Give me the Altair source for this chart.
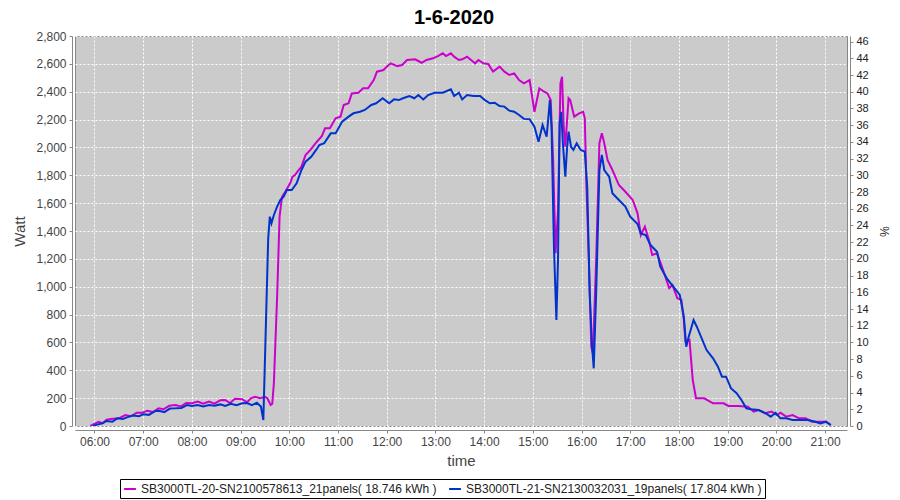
import altair as alt
import pandas as pd

# ---- data ----
m_time = ["05:55","06:00","06:05","06:10","06:15","06:20","06:30","06:38","06:45","06:52","06:59","07:05","07:12","07:19","07:25","07:32","07:40","07:46","07:53","08:00","08:07","08:14","08:21","08:28","08:35","08:41","08:47","08:53","09:02","09:08","09:13","09:18","09:24","09:30","09:33","09:37","09:39","09:41","09:45","09:48","09:51","09:55","10:01","10:04","10:07","10:10","10:15","10:20","10:26","10:34","10:40","10:44","10:50","10:57","11:03","11:07","11:13","11:17","11:25","11:31","11:37","11:44","11:48","11:56","12:00","12:05","12:13","12:19","12:25","12:35","12:43","12:49","12:57","13:03","13:09","13:13","13:19","13:23","13:29","13:33","13:39","13:45","13:49","13:53","13:59","14:05","14:11","14:19","14:25","14:31","14:37","14:43","14:49","14:56","15:02","15:08","15:14","15:18","15:22","15:25","15:28","15:31","15:34","15:36","15:38","15:40","15:44","15:46","15:51","15:57","16:02","16:04","16:06","16:09","16:12","16:14","16:18","16:22","16:25","16:28","16:32","16:38","16:46","16:54","17:03","17:09","17:13","17:18","17:23","17:27","17:33","17:39","17:48","17:52","17:58","18:03","18:06","18:08","18:13","18:17","18:21","18:31","18:42","18:55","19:01","19:13","19:25","19:32","19:38","19:46","19:54","20:01","20:05","20:12","20:20","20:28","20:36","20:44","21:01","21:07"]
m_watt = [0,15,30,20,45,50,55,79,70,95,95,110,100,127,120,145,151,140,165,163,175,160,175,160,185,187,165,195,192,170,200,210,200,210,199,151,160,309,928,1503,1646,1682,1742,1790,1802,1826,1862,1946,1982,2041,2080,2137,2137,2209,2221,2305,2317,2388,2393,2424,2424,2484,2544,2556,2580,2604,2584,2592,2628,2633,2608,2628,2640,2656,2676,2656,2676,2652,2628,2633,2652,2623,2604,2628,2604,2599,2544,2580,2544,2520,2532,2484,2460,2484,2256,2424,2400,2388,2340,1910,1240,1551,2460,2508,2149,2005,2353,2340,2221,2245,2256,2209,1718,1192,569,522,1192,2030,2101,2030,1910,1838,1730,1682,1623,1527,1371,1431,1335,1228,1240,1144,989,1012,917,905,761,605,617,330,199,199,163,163,144,144,139,103,115,91,103,79,95,67,79,55,55,31,31,7]

b_time = ["05:58","06:03","06:10","06:15","06:22","06:28","06:35","06:40","06:47","06:55","07:00","07:07","07:14","07:19","07:26","07:33","07:40","07:47","07:54","08:00","08:07","08:14","08:21","08:28","08:35","08:41","08:48","08:55","09:02","09:08","09:14","09:20","09:25","09:28","09:34","09:36","09:38","09:41","09:45","09:49","09:53","09:57","10:03","10:09","10:15","10:20","10:27","10:33","10:37","10:43","10:51","10:57","11:05","11:13","11:19","11:27","11:33","11:41","11:47","11:55","12:03","12:09","12:15","12:20","12:28","12:34","12:39","12:45","12:51","12:59","13:09","13:19","13:23","13:29","13:33","13:39","13:47","13:55","14:01","14:07","14:13","14:19","14:25","14:31","14:37","14:43","14:49","14:56","15:02","15:07","15:12","15:17","15:21","15:23","15:26","15:29","15:31","15:33","15:35","15:37","15:40","15:42","15:44","15:47","15:50","15:54","15:59","16:04","16:07","16:10","16:13","16:15","16:18","16:22","16:25","16:28","16:34","16:38","16:46","16:54","17:00","17:09","17:13","17:19","17:25","17:33","17:37","17:45","17:53","18:01","18:06","18:09","18:12","18:18","18:22","18:28","18:34","18:42","18:48","18:53","18:58","19:04","19:11","19:17","19:23","19:29","19:38","19:46","19:53","19:59","20:05","20:12","20:20","20:31","20:39","20:48","20:54","21:01","21:07"]
b_watt = [0,10,20,36,30,55,50,62,75,70,85,80,105,110,100,125,127,130,150,144,150,140,151,145,155,144,160,150,163,165,150,167,140,43,1347,1503,1455,1515,1575,1623,1646,1694,1694,1742,1838,1898,1933,1982,2017,2030,2101,2101,2185,2221,2245,2256,2269,2305,2317,2353,2317,2345,2340,2353,2369,2353,2376,2345,2376,2393,2393,2417,2369,2393,2345,2376,2369,2369,2340,2317,2321,2297,2293,2264,2256,2233,2205,2202,2149,2041,2161,2077,2340,2149,1287,761,1192,2173,2256,2030,1790,1982,2113,2005,1982,2030,1982,1970,1718,953,569,414,953,1838,1946,1838,1790,1671,1623,1575,1503,1450,1383,1371,1299,1251,1144,1060,1000,941,785,569,641,761,713,629,545,486,426,354,354,271,235,187,127,120,115,95,67,95,55,55,43,43,43,31,19,31,7]

series_names = ["SB3000TL-20-SN2100578613_21panels( 18.746 kWh )",
                "SB3000TL-21-SN2130032031_19panels( 17.804 kWh )"]
series_colors = ["#cc00cc", "#0033cc"]

left_ticks = list(range(0, 2801, 200))
right_ticks = list(range(0, 47, 2))
hour_ticks = list(range(6, 22))
chart_title = "1-6-2020"

# ---- build table ----
df = pd.concat([
    pd.DataFrame({"time": m_time, "watt": m_watt, "series": series_names[0]}),
    pd.DataFrame({"time": b_time, "watt": b_watt, "series": series_names[1]}),
], ignore_index=True)
df["ts"] = "2020-06-01T" + df["time"]
df["pct"] = df["watt"] / 60.0

FONT = "Liberation Sans"


def dt(h, m=0):
    return alt.DateTime(year=2020, month=6, date=1, hours=h, minutes=m)


x_dom = [dt(5, 36), dt(21, 27)]

x_enc = alt.X("ts:T",
              scale=alt.Scale(domain=x_dom),
              axis=alt.Axis(format="%H:%M", values=[dt(h) for h in hour_ticks],
                            title="time", titleFontSize=15, titleFontWeight="normal",
                            titleColor="#444444", titlePadding=6,
                            labelFontSize=12, labelColor="#444444", labelPadding=3,
                            grid=True, gridColor="white", gridDash=[2, 2],
                            gridWidth=1, offset=4, tickSize=3,
                            domainColor="#888888", tickColor="#888888"))

lines = alt.Chart(df).mark_line(strokeWidth=2, clip=True).encode(
    x=x_enc,
    y=alt.Y("watt:Q",
            scale=alt.Scale(domain=[0, 2800], nice=False),
            axis=alt.Axis(values=left_ticks, format=",d", title="Watt",
                          titleFontSize=15, titleFontWeight="normal",
                          titleColor="#444444", titlePadding=8,
                          labelFontSize=12, labelColor="#444444", labelPadding=3,
                          grid=True, gridColor="white", gridDash=[2, 2], gridWidth=1,
                          offset=3, tickSize=3,
                          domainColor="#888888", tickColor="#888888")),
    color=alt.Color("series:N",
                    scale=alt.Scale(domain=series_names, range=series_colors),
                    legend=alt.Legend(orient="none", legendX=45, legendY=443,
                                      direction="horizontal", title=None,
                                      symbolType="stroke", symbolStrokeWidth=2,
                                      symbolSize=140, labelFontSize=12,
                                      labelColor="#222222", labelLimit=600,
                                      columnPadding=8, strokeColor="black",
                                      padding=3, fillColor="white")),
    detail="series:N",
    order="ts:T",
)

right = alt.Chart(df).mark_line(opacity=0).encode(
    x=x_enc,
    y=alt.Y("pct:Q",
            scale=alt.Scale(domain=[0, 2800 / 60.0], nice=False),
            axis=alt.Axis(orient="right", values=right_ticks, title="%",
                          titleFontSize=12, titleFontWeight="normal",
                          titleColor="#222222", titlePadding=8,
                          labelFontSize=11, labelColor="#222222", labelPadding=3,
                          grid=False, offset=3, tickSize=3,
                          domainColor="#888888", tickColor="#888888")),
)

chart = alt.layer(lines, right).resolve_scale(y="independent").properties(
    width=772, height=390,
    title=alt.TitleParams(chart_title, fontSize=20, fontWeight="bold", font=FONT,
                          color="black", offset=2, anchor="middle", frame="group",
                          dx=-7),
    autosize=alt.AutoSizeParams(type="none"),
    padding={"left": 67, "top": 28, "right": 45, "bottom": 84},
).configure(font=FONT).configure_view(
    fill="#cbcbcb", stroke="#888888", strokeWidth=1
).configure_axis(labelFont=FONT, titleFont=FONT).configure_legend(labelFont=FONT)

chart.save("out.html", embed_options={"renderer": "svg", "actions": False})
